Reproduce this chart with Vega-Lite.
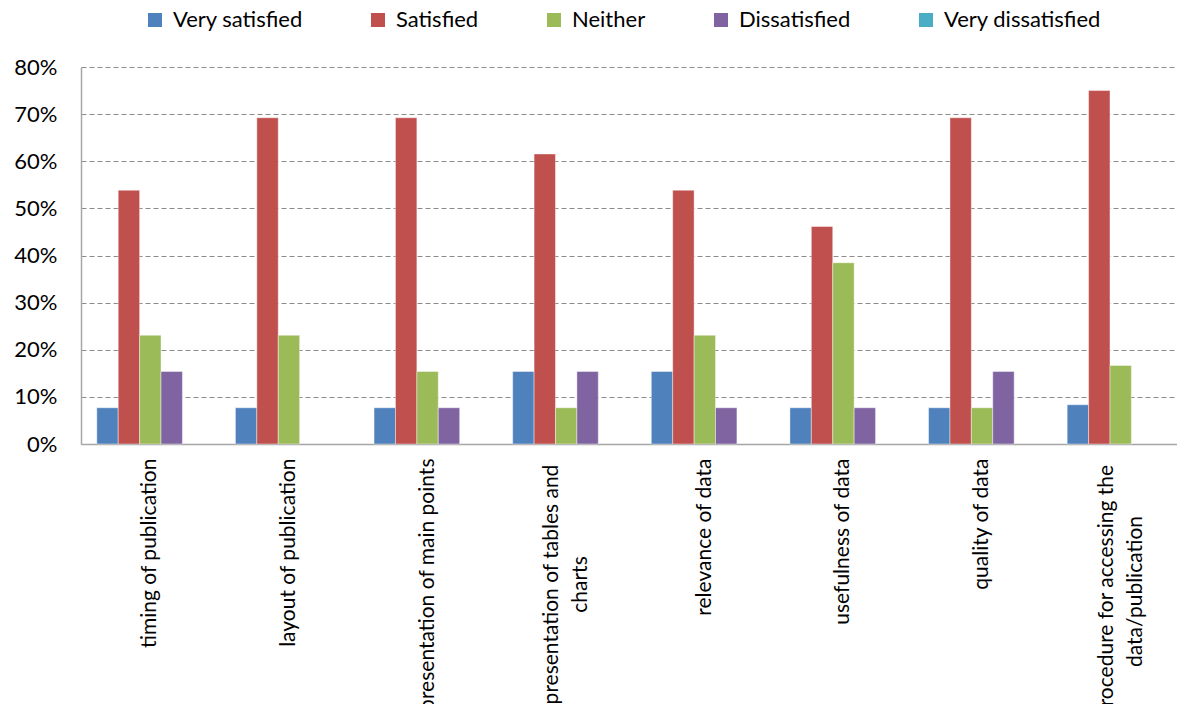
{
  "$schema": "https://vega.github.io/schema/vega-lite/v6.json",
  "autosize": {"type": "none"},
  "padding": {"left": 81, "top": 67, "right": 0, "bottom": 260},
  "width": 1096,
  "height": 377,
  "background": "white",
  "config": {
    "view": {"stroke": null},
    "font": "Lato",
    "axis": {"labelFont": "Lato", "labelColor": "#000000"}
  },
  "data": {
    "values": [
      {"aspect": "timing of publication", "rating": "Very satisfied", "share": 0.0769},
      {"aspect": "timing of publication", "rating": "Satisfied", "share": 0.5385},
      {"aspect": "timing of publication", "rating": "Neither", "share": 0.2308},
      {"aspect": "timing of publication", "rating": "Dissatisfied", "share": 0.1538},
      {"aspect": "layout of publication", "rating": "Very satisfied", "share": 0.0769},
      {"aspect": "layout of publication", "rating": "Satisfied", "share": 0.6923},
      {"aspect": "layout of publication", "rating": "Neither", "share": 0.2308},
      {"aspect": "presentation of main points", "rating": "Very satisfied", "share": 0.0769},
      {"aspect": "presentation of main points", "rating": "Satisfied", "share": 0.6923},
      {"aspect": "presentation of main points", "rating": "Neither", "share": 0.1538},
      {"aspect": "presentation of main points", "rating": "Dissatisfied", "share": 0.0769},
      {"aspect": "presentation of tables and|charts", "rating": "Very satisfied", "share": 0.1538},
      {"aspect": "presentation of tables and|charts", "rating": "Satisfied", "share": 0.6154},
      {"aspect": "presentation of tables and|charts", "rating": "Neither", "share": 0.0769},
      {"aspect": "presentation of tables and|charts", "rating": "Dissatisfied", "share": 0.1538},
      {"aspect": "relevance of data", "rating": "Very satisfied", "share": 0.1538},
      {"aspect": "relevance of data", "rating": "Satisfied", "share": 0.5385},
      {"aspect": "relevance of data", "rating": "Neither", "share": 0.2308},
      {"aspect": "relevance of data", "rating": "Dissatisfied", "share": 0.0769},
      {"aspect": "usefulness of data", "rating": "Very satisfied", "share": 0.0769},
      {"aspect": "usefulness of data", "rating": "Satisfied", "share": 0.4615},
      {"aspect": "usefulness of data", "rating": "Neither", "share": 0.3846},
      {"aspect": "usefulness of data", "rating": "Dissatisfied", "share": 0.0769},
      {"aspect": "quality of data", "rating": "Very satisfied", "share": 0.0769},
      {"aspect": "quality of data", "rating": "Satisfied", "share": 0.6923},
      {"aspect": "quality of data", "rating": "Neither", "share": 0.0769},
      {"aspect": "quality of data", "rating": "Dissatisfied", "share": 0.1538},
      {"aspect": "procedure for accessing the|data/publication", "rating": "Very satisfied", "share": 0.0833},
      {"aspect": "procedure for accessing the|data/publication", "rating": "Satisfied", "share": 0.75},
      {"aspect": "procedure for accessing the|data/publication", "rating": "Neither", "share": 0.1667}
    ]
  },
  "mark": {"type": "bar", "stroke": "#ffffff", "strokeWidth": 0.7, "strokeOpacity": 0.6},
  "encoding": {
    "x": {
      "field": "aspect",
      "type": "nominal",
      "sort": null,
      "scale": {"range": [0, 1109], "paddingInner": 0.228, "paddingOuter": 0.114},
      "axis": {
        "title": null,
        "labelAngle": -90,
        "labelFontSize": 21,
        "labelLimit": 0,
        "labelLineHeight": 29,
        "labelAlign": {"condition": {"test": "indexof(datum.label, '|') >= 0", "value": "center"}, "value": "right"},
        "labelPadding": {"condition": [{"test": "indexof(datum.label, 'tables') >= 0", "value": 140}, {"test": "indexof(datum.label, 'procedure') >= 0", "value": 147}], "value": 14},
        "labelOffset": {"condition": {"test": "indexof(datum.label, '|') >= 0", "value": -14}, "value": 0},
        "labelExpr": "split(datum.label, '|')",
        "ticks": false,
        "domainColor": "#a6a6a6",
        "domainWidth": 1.5,
        "grid": false
      }
    },
    "xOffset": {
      "field": "rating",
      "type": "nominal",
      "scale": {"domain": ["Very satisfied", "Satisfied", "Neither", "Dissatisfied", "Very dissatisfied"], "paddingInner": 0, "paddingOuter": 0}
    },
    "y": {
      "field": "share",
      "type": "quantitative",
      "scale": {"domain": [0, 0.8], "nice": false},
      "axis": {
        "title": null,
        "format": ".0%",
        "values": [0, 0.1, 0.2, 0.3, 0.4, 0.5, 0.6, 0.7, 0.8],
        "labelFontSize": 22,
        "labelPadding": 24,
        "ticks": false,
        "domainColor": "#a6a6a6",
        "domainWidth": 1.5,
        "gridColor": "#8c8c8c",
        "gridDash": [5, 3],
        "gridWidth": 1
      }
    },
    "color": {
      "field": "rating",
      "type": "nominal",
      "scale": {
        "domain": ["Very satisfied", "Satisfied", "Neither", "Dissatisfied", "Very dissatisfied"],
        "range": ["#4f81bd", "#c0504d", "#9bbb59", "#8064a2", "#4bacc6"]
      },
      "legend": {
        "title": null,
        "orient": "none",
        "legendX": 63,
        "legendY": -58,
        "direction": "horizontal",
        "symbolType": "square",
        "symbolSize": 196,
        "symbolStrokeWidth": 0,
        "labelFontSize": 22,
        "labelOffset": 7,
        "columnPadding": 64,
        "labelLimit": 0
      }
    }
  }
}
